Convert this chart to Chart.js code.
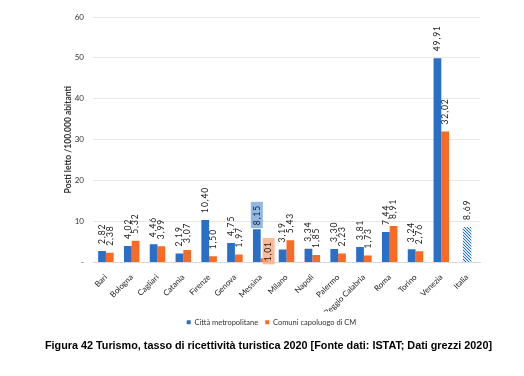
<!DOCTYPE html>
<html>
<head>
<meta charset="utf-8">
<script src="https://cdn.jsdelivr.net/npm/chart.js@4.4.1/dist/chart.umd.min.js"></script>
<style>
  html, body { margin: 0; padding: 0; background: #fff; }
  #wrap { position: relative; width: 524px; height: 376px; }
  #caption {
    position: absolute; left: 45px; top: 339px;
    font: bold 10.8px "Liberation Sans", Arial, sans-serif; color: #000;
    white-space: nowrap;
  }
</style>
</head>
<body>
<div id="wrap">
  <canvas id="c" width="524" height="376"></canvas>
  <div id="caption">Figura 42 Turismo, tasso di ricettività turistica 2020 [Fonte dati: ISTAT; Dati grezzi 2020]</div>
</div>
<script>
/* ── Data ─────────────────────────────────────────────────────── */

const CITIES = ['Bari', 'Bologna', 'Cagliari', 'Catania', 'Firenze', 'Genova', 'Messina',
    'Milano', 'Napoli', 'Palermo', 'Reggio Calabria', 'Roma', 'Torino', 'Venezia', 'Italia'];

const CITTA_METRO = [2.82, 4.02, 4.46, 2.19, 10.40, 4.75, 8.15, 3.19, 3.34, 3.30, 3.81, 7.44, 3.24, 49.91, null];
const COMUNI_CM   = [2.38, 5.32, 3.99, 3.07, 1.50, 1.97, 1.01, 5.43, 1.85, 2.23, 1.73, 8.91, 2.76, 32.02, null];
const ITALIA      = [null, null, null, null, null, null, null, null, null, null, null, null, null, null, 8.69];

const Y_TICKS = [0, 10, 20, 30, 40, 50, 60];

/* ── Colours ──────────────────────────────────────────────────── */

const BLUE = '#2a6fc6';
const ORANGE = '#fb6a22';

function hatchPattern(color) {
    const c = document.createElement('canvas');
    c.width = 3; c.height = 3;
    const ctx = c.getContext('2d');
    ctx.fillStyle = '#dbe8f8';
    ctx.fillRect(0, 0, 3, 3);
    ctx.fillStyle = color;
    ctx.fillRect(0, 0, 1, 1);
    ctx.fillRect(1, 1, 1, 1);
    ctx.fillRect(2, 2, 1, 1);
    return ctx.createPattern(c, 'repeat');
}

const FONT = 'Lato, "Open Sans", sans-serif';
const fmt = v => v.toFixed(2).replace('.', ',');

/* ── Rotated value labels ─────────────────────────────────────── */

// Messina labels sit in coloured boxes in the original
const LABEL_BOX = { '0:6': 'rgba(125,170,225,0.85)', '1:6': 'rgba(250,170,125,0.8)' };

const valueLabels = {
    id: 'valueLabels',
    afterDatasetsDraw(chart) {
        const ctx = chart.ctx;
        ctx.save();
        ctx.font = `8.5px ${FONT}`;
        ctx.letterSpacing = '0.9px';
        ctx.fillStyle = '#222';
        chart.data.datasets.forEach((ds, di) => {
            const meta = chart.getDatasetMeta(di);
            meta.data.forEach((bar, i) => {
                const v = ds.data[i];
                if (v == null) return;
                const txt = fmt(v);
                const w = ctx.measureText(txt).width;
                let x = bar.x, y = bar.y - 7;
                const box = LABEL_BOX[di + ':' + i];
                if (di === 0 && i === 6) { y = bar.y - 4; }
                if (di === 1 && i === 6) { x = bar.x + 4; y = bar.y + 3; }
                if (box) {
                    ctx.fillStyle = box;
                    ctx.fillRect(x - 6, y - w - 3, 12, w + 6);
                    ctx.fillStyle = '#222';
                }
                ctx.save();
                ctx.translate(x, y);
                ctx.rotate(-Math.PI / 2);
                ctx.textAlign = 'left';
                ctx.textBaseline = 'middle';
                ctx.fillText(txt, 0, 0);
                ctx.restore();
            });
        });
        ctx.restore();
    }
};

/* ── Chart ────────────────────────────────────────────────────── */

new Chart(document.getElementById('c'), {
    type: 'bar',
    data: {
        labels: CITIES,
        datasets: [
            { label: 'Città metropolitane', data: CITTA_METRO, backgroundColor: BLUE },
            { label: 'Comuni capoluogo di CM', data: COMUNI_CM, backgroundColor: ORANGE },
            { label: 'Italia', data: ITALIA, backgroundColor: hatchPattern(BLUE),
              grouped: false, barPercentage: 0.55 },
        ]
    },
    options: {
        responsive: false,
        animation: false,
        categoryPercentage: 0.6,
        barPercentage: 1,
        layout: { padding: { left: 63, right: 44, top: 17, bottom: 40 } },
        scales: {
            x: {
                grid: { display: false },
                border: { color: '#d9d9d9' },
                ticks: {
                    minRotation: 45, maxRotation: 45, padding: 2,
                    font: { family: FONT, size: 8 }, color: '#222',
                },
                afterFit: s => { s.height = 49; },
            },
            y: {
                min: 0, max: 60,
                afterBuildTicks: s => { s.ticks = Y_TICKS.map(v => ({ value: v })); },
                grid: { color: '#e6e6e6', drawTicks: false },
                border: { display: false },
                ticks: {
                    padding: 9,
                    font: { family: FONT, size: 8 }, color: '#333',
                    callback: v => v === 0 ? '-' : v,
                },
                title: {
                    display: true, text: 'Posti letto /100.000 abitanti',
                    font: { family: FONT, size: 8.5, weight: 'bold' }, color: '#333', padding: 0,
                },
                afterFit: s => { s.width = 30; },
            }
        },
        plugins: {
            legend: {
                position: 'bottom',
                labels: {
                    filter: item => item.datasetIndex < 2,
                    boxWidth: 4, boxHeight: 4, padding: 7,
                    font: { family: FONT, size: 7.5 }, color: '#333',
                }
            },
            tooltip: { enabled: false },
        }
    },
    plugins: [valueLabels]
});
</script>
</body>
</html>
